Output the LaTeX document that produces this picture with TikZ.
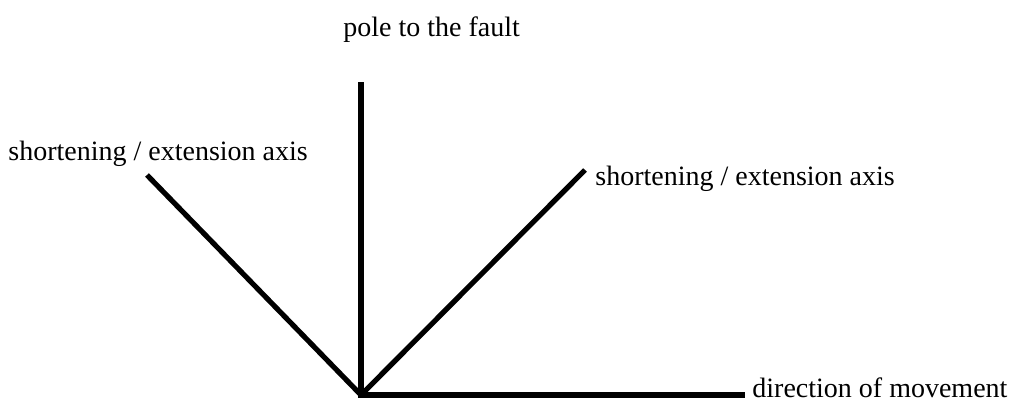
\documentclass[tikz,border=0pt]{standalone}
\usepackage{fontspec}
\setmainfont{Liberation Serif}
\begin{document}
\begin{tikzpicture}[x=0.5pt,y=-0.5pt,
  axisline/.style={line width=2.6pt,black},
  lbl/.style={inner sep=0pt,anchor=base west,font=\fontsize{14}{16}\selectfont}]
\useasboundingbox (0,0) rectangle (1016,408);
\coordinate (O) at (361,395);
\coordinate (V) at (361,82);
\coordinate (L) at (147,175);
\coordinate (R) at (585,170);
\coordinate (H) at (745,395);
\draw[axisline] (V) -- (O);
\draw[axisline] (L) -- (O);
\draw[axisline] (R) -- (O);
\draw[axisline] ([xshift=-1.3pt]O) -- (H);
\node[lbl] (pole) at (343,36) {pole to the fault};
\node[lbl] (left) at (8,160) {shortening / extension axis};
\node[lbl] (right) at (595,185) {shortening / extension axis};
\node[lbl] (dir) at (752,397) {direction of movement};
\end{tikzpicture}
\end{document}
